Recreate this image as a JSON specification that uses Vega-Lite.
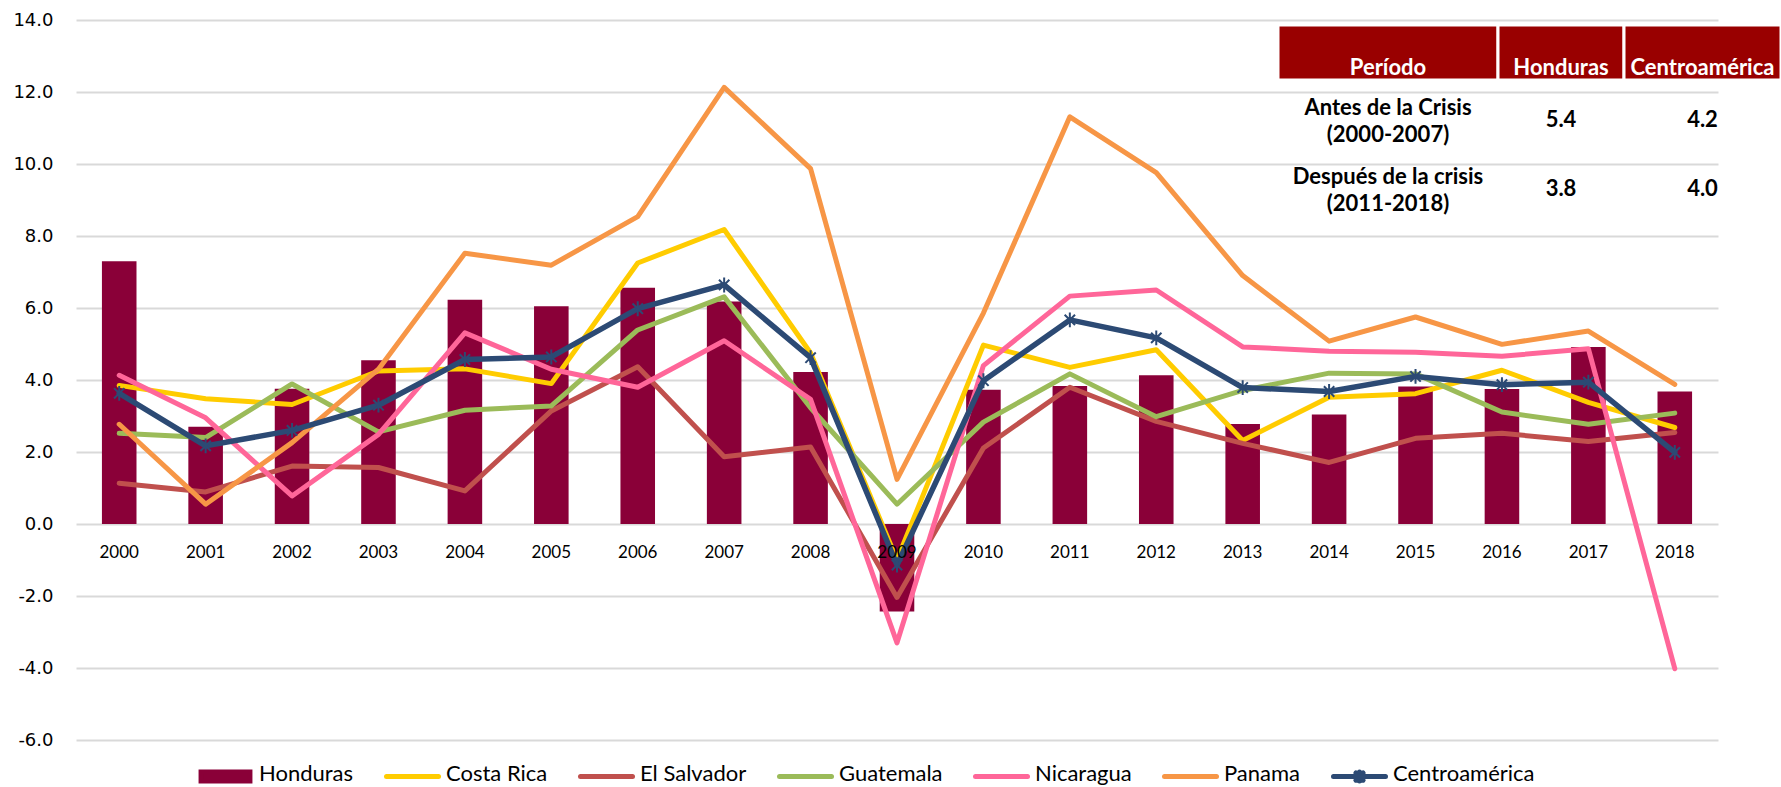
{
  "$schema": "https://vega.github.io/schema/vega-lite/v6.json",
  "width": 1642,
  "height": 720,
  "autosize": {"type": "none"},
  "padding": {"left": 76, "top": 20, "right": 63, "bottom": 47},
  "background": "white",
  "config": {"view": {"stroke": null}, "font": "Lato"},
  "datasets": {
    "growth": [
      {"year": "2000", "Honduras": 7.3, "Costa Rica": 3.85, "El Salvador": 1.13, "Guatemala": 2.52, "Nicaragua": 4.13, "Panama": 2.77, "Centroamérica": 3.63},
      {"year": "2001", "Honduras": 2.7, "Costa Rica": 3.48, "El Salvador": 0.89, "Guatemala": 2.4, "Nicaragua": 2.95, "Panama": 0.55, "Centroamérica": 2.17},
      {"year": "2002", "Honduras": 3.76, "Costa Rica": 3.32, "El Salvador": 1.61, "Guatemala": 3.89, "Nicaragua": 0.78, "Panama": 2.26, "Centroamérica": 2.6},
      {"year": "2003", "Honduras": 4.55, "Costa Rica": 4.25, "El Salvador": 1.57, "Guatemala": 2.56, "Nicaragua": 2.49, "Panama": 4.3, "Centroamérica": 3.3},
      {"year": "2004", "Honduras": 6.23, "Costa Rica": 4.31, "El Salvador": 0.92, "Guatemala": 3.16, "Nicaragua": 5.31, "Panama": 7.52, "Centroamérica": 4.57},
      {"year": "2005", "Honduras": 6.05, "Costa Rica": 3.9, "El Salvador": 3.14, "Guatemala": 3.28, "Nicaragua": 4.3, "Panama": 7.19, "Centroamérica": 4.64},
      {"year": "2006", "Honduras": 6.56, "Costa Rica": 7.25, "El Salvador": 4.37, "Guatemala": 5.39, "Nicaragua": 3.8, "Panama": 8.54, "Centroamérica": 5.98},
      {"year": "2007", "Honduras": 6.18, "Costa Rica": 8.18, "El Salvador": 1.87, "Guatemala": 6.31, "Nicaragua": 5.09, "Panama": 12.13, "Centroamérica": 6.64},
      {"year": "2008", "Honduras": 4.22, "Costa Rica": 4.75, "El Salvador": 2.14, "Guatemala": 3.23, "Nicaragua": 3.46, "Panama": 9.87, "Centroamérica": 4.62},
      {"year": "2009", "Honduras": -2.43, "Costa Rica": -1.0, "El Salvador": -2.04, "Guatemala": 0.55, "Nicaragua": -3.3, "Panama": 1.24, "Centroamérica": -1.14},
      {"year": "2010", "Honduras": 3.73, "Costa Rica": 4.97, "El Salvador": 2.11, "Guatemala": 2.83, "Nicaragua": 4.4, "Panama": 5.86, "Centroamérica": 3.98},
      {"year": "2011", "Honduras": 3.83, "Costa Rica": 4.35, "El Salvador": 3.8, "Guatemala": 4.17, "Nicaragua": 6.33, "Panama": 11.31, "Centroamérica": 5.67},
      {"year": "2012", "Honduras": 4.13, "Costa Rica": 4.84, "El Salvador": 2.85, "Guatemala": 2.98, "Nicaragua": 6.5, "Panama": 9.76, "Centroamérica": 5.17},
      {"year": "2013", "Honduras": 2.78, "Costa Rica": 2.32, "El Salvador": 2.24, "Guatemala": 3.71, "Nicaragua": 4.92, "Panama": 6.9, "Centroamérica": 3.79},
      {"year": "2014", "Honduras": 3.04, "Costa Rica": 3.52, "El Salvador": 1.71, "Guatemala": 4.19, "Nicaragua": 4.8, "Panama": 5.08, "Centroamérica": 3.68},
      {"year": "2015", "Honduras": 3.82, "Costa Rica": 3.62, "El Salvador": 2.38, "Guatemala": 4.17, "Nicaragua": 4.77, "Panama": 5.75, "Centroamérica": 4.1},
      {"year": "2016", "Honduras": 3.75, "Costa Rica": 4.27, "El Salvador": 2.52, "Guatemala": 3.11, "Nicaragua": 4.66, "Panama": 4.99, "Centroamérica": 3.87},
      {"year": "2017", "Honduras": 4.92, "Costa Rica": 3.38, "El Salvador": 2.29, "Guatemala": 2.77, "Nicaragua": 4.87, "Panama": 5.36, "Centroamérica": 3.94},
      {"year": "2018", "Honduras": 3.68, "Costa Rica": 2.68, "El Salvador": 2.54, "Guatemala": 3.08, "Nicaragua": -4.02, "Panama": 3.88, "Centroamérica": 1.99}
    ],
    "tabla": [
      {"c": 0, "r": 0, "texto": "Período"},
      {"c": 1, "r": 0, "texto": "Honduras"},
      {"c": 2, "r": 0, "texto": "Centroamérica"},
      {"c": 0, "r": 1, "texto": "Antes de la Crisis\n(2000-2007)"},
      {"c": 1, "r": 1, "texto": "5.4"},
      {"c": 2, "r": 1, "texto": "4.2"},
      {"c": 0, "r": 2, "texto": "Después de la crisis\n(2011-2018)"},
      {"c": 1, "r": 2, "texto": "3.8"},
      {"c": 2, "r": 2, "texto": "4.0"}
    ]
  },
  "resolve": {"scale": {"x": "independent", "y": "independent"}},
  "layer": [
    {
      "data": {"name": "growth"},
      "layer": [
        {
          "transform": [{"fold": ["Honduras"], "as": ["serie", "value"]}],
          "mark": {"type": "bar", "width": {"band": 0.4}},
          "encoding": {
            "x": {
              "field": "year", "type": "ordinal",
              "scale": {"type": "band", "paddingInner": 0, "paddingOuter": 0},
              "axis": {"title": null, "offset": -216, "domain": false, "ticks": false, "grid": false, "labelAngle": 0, "labelPadding": 20, "labelFont": "Lato", "labelFontSize": 17, "labelColor": "#000000", "zindex": 1}
            },
            "y": {
              "field": "value", "type": "quantitative",
              "scale": {"domain": [-6, 14], "nice": false, "zero": false},
              "axis": {"title": null, "values": [-6, -4, -2, 0, 2, 4, 6, 8, 10, 12, 14], "domain": false, "ticks": false, "grid": true, "gridColor": "#d9d9d9", "gridWidth": 2, "labelPadding": 23, "labelFont": "DejaVu Sans", "labelFontSize": 18, "labelColor": "#000000", "labelExpr": "replace(format(datum.value, '.1f'), '−', '-')"}
            },
            "color": {
              "field": "serie", "type": "nominal",
              "scale": {
                "domain": ["Honduras", "Costa Rica", "El Salvador", "Guatemala", "Nicaragua", "Panama", "Centroamérica"],
                "range": ["#8a0038", "#ffcc00", "#c0504d", "#9bbb59", "#ff6699", "#f79646", "#2c4a74"]
              },
              "legend": {
                "title": null, "orient": "none", "legendX": 121, "legendY": 728, "direction": "horizontal",
                "labelFont": "Lato", "labelFontSize": 22, "labelColor": "#000000", "labelOffset": 5, "columnPadding": 22,
                "symbolSize": 2704, "symbolStrokeWidth": 5, "padding": 0, "labelLimit": 400,
                "encode": {
                  "labels": {"update": {"dy": {"value": -3}}},
                  "symbols": {
                    "update": {
                      "shape": {"signal": "datum.value === 'Honduras' ? 'M-0.94,-0.17H0.94V0.17H-0.94Z' : (datum.value === 'Centroamérica' ? 'M-1,0H1M-0.14,-0.14L0.14,0.14M-0.14,0.14L0.14,-0.14M0,-0.17V0.17' : 'M-1,0H1M0,-0.17M0,0.17')"},
                      "size": {"value": 2704},
                      "strokeWidth": {"value": 5},
                      "fill": {"signal": "datum.value === 'Honduras' ? scale('color', datum.value) : 'transparent'"},
                      "stroke": {"signal": "scale('color', datum.value)"},
                      "strokeCap": {"signal": "datum.value === 'Honduras' ? 'butt' : 'round'"},
                      "opacity": {"value": 1}
                    }
                  }
                }
              }
            }
          }
        },
        {
          "transform": [{"fold": ["Costa Rica", "El Salvador", "Guatemala", "Nicaragua", "Panama"], "as": ["serie", "value"]}],
          "mark": {"type": "line", "strokeWidth": 5, "strokeCap": "round", "strokeJoin": "round"},
          "encoding": {
            "x": {"field": "year", "type": "ordinal"},
            "y": {"field": "value", "type": "quantitative"},
            "color": {"field": "serie", "type": "nominal"}
          }
        },
        {
          "transform": [{"fold": ["Centroamérica"], "as": ["serie", "value"]}],
          "mark": {"type": "line", "strokeWidth": 5.5, "strokeCap": "round", "strokeJoin": "round"},
          "encoding": {
            "x": {"field": "year", "type": "ordinal"},
            "y": {"field": "value", "type": "quantitative"},
            "color": {"field": "serie", "type": "nominal"}
          }
        },
        {
          "transform": [{"fold": ["Centroamérica"], "as": ["serie", "value"]}],
          "mark": {"type": "point", "shape": "M-0.7,-0.7L0.7,0.7M-0.7,0.7L0.7,-0.7M0,-1L0,1", "filled": false, "stroke": "#2c4a74", "strokeWidth": 2, "size": 220, "opacity": 1},
          "encoding": {
            "x": {"field": "year", "type": "ordinal"},
            "y": {"field": "value", "type": "quantitative"}
          }
        }
      ]
    },
    {
      "data": {"name": "tabla"},
      "layer": [
        {
          "transform": [
            {"filter": "datum.r === 0"},
            {"calculate": "datum.c - 0.5", "as": "x0"},
            {"calculate": "datum.c + 0.5", "as": "x1"},
            {"calculate": "datum.r + 1", "as": "r1"}
          ],
          "mark": {"type": "rect", "color": "#990000", "stroke": "#ffffff", "strokeWidth": 3},
          "encoding": {
            "x": {"field": "x0", "type": "quantitative", "scale": {"domain": [-0.5, 0.5, 1.5, 2.5], "range": [1202, 1422, 1548, 1705], "nice": false, "zero": false}, "axis": null},
            "x2": {"field": "x1"},
            "y": {"field": "r", "type": "quantitative", "scale": {"domain": [0, 1, 1.5, 2.5], "range": [5, 60, 100, 169], "nice": false, "zero": false}, "axis": null},
            "y2": {"field": "r1"}
          }
        },
        {
          "transform": [{"filter": "datum.r === 0"}],
          "mark": {"type": "text", "color": "#ffffff", "font": "Lato", "fontWeight": "bold", "fontSize": 22, "baseline": "alphabetic", "align": "center", "dy": -5},
          "encoding": {
            "x": {"field": "c", "type": "quantitative"},
            "y": {"datum": 1, "type": "quantitative"},
            "text": {"field": "texto"}
          }
        },
        {
          "transform": [
            {"filter": "datum.r > 0 && datum.c > 0"},
            {"calculate": "datum.r + 0.5", "as": "ym"}
          ],
          "mark": {"type": "text", "color": "#000000", "font": "Lato", "fontWeight": "bold", "fontSize": 22, "baseline": "middle", "align": "center"},
          "encoding": {
            "x": {"field": "c", "type": "quantitative"},
            "y": {"field": "ym", "type": "quantitative"},
            "text": {"field": "texto"}
          }
        },
        {
          "transform": [
            {"filter": "datum.r > 0 && datum.c === 0"},
            {"calculate": "datum.r + 0.5", "as": "ym"}
          ],
          "mark": {"type": "text", "color": "#000000", "font": "Lato", "fontWeight": "bold", "fontSize": 22, "baseline": "middle", "align": "center", "lineBreak": "\n", "lineHeight": 27, "dy": -12},
          "encoding": {
            "x": {"field": "c", "type": "quantitative"},
            "y": {"field": "ym", "type": "quantitative"},
            "text": {"field": "texto"}
          }
        }
      ]
    }
  ]
}
